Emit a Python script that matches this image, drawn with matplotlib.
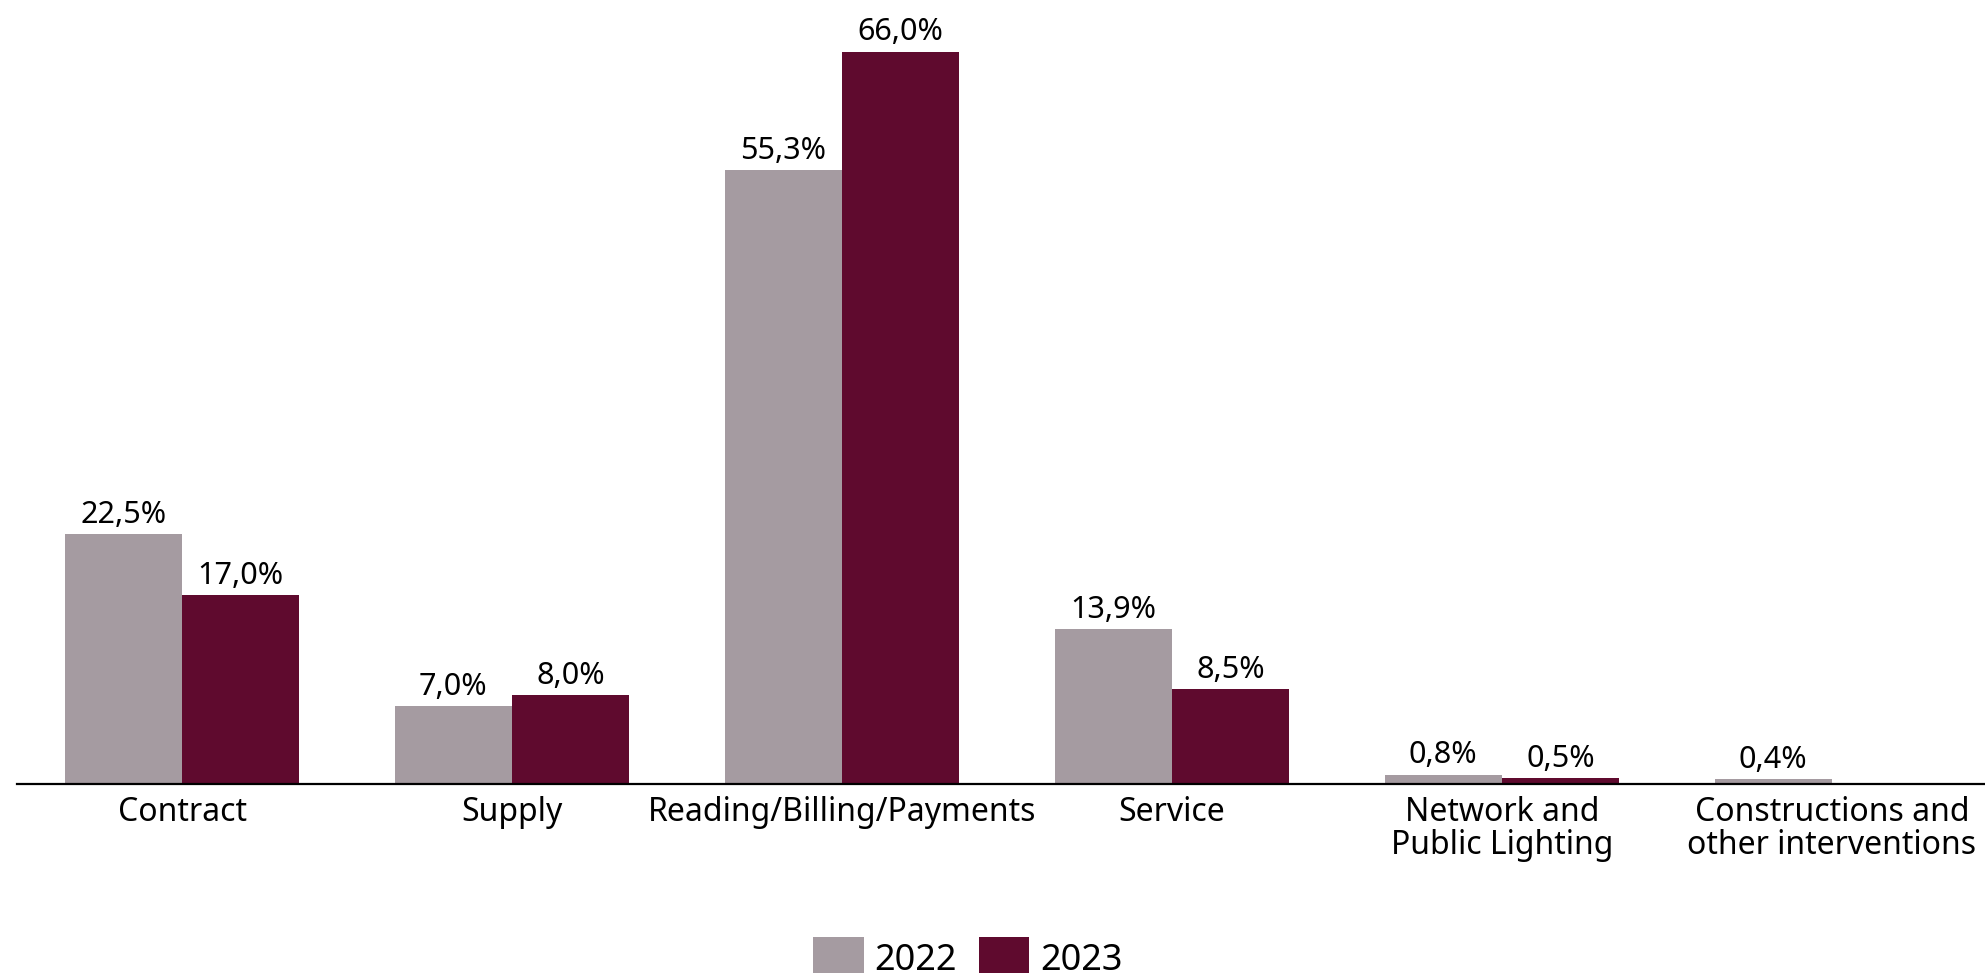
import matplotlib
matplotlib.use('Agg')
import matplotlib.pyplot as plt
import numpy as np

# 데이터
categories = ['Contract', 'Supply', 'Reading/Billing/Payments', 'Service',
              'Network and\nPublic Lighting', 'Constructions and\nother interventions']
vals_2022 = [22.5, 7.0, 55.3, 13.9, 0.8, 0.4]
vals_2023 = [17.0, 8.0, 66.0, 8.5, 0.5, 0.0]
series_names = ['2022', '2023']

c2022 = '#A59BA1'
c2023 = '#5F0A2E'

plt.rcParams['font.family'] = ['Noto Sans', 'DejaVu Sans']

W, H = 1985, 973
fig = plt.figure(figsize=(W / 100, H / 100), dpi=100)
ax = fig.add_axes([17 / W, (H - 783.5) / H, 1 - 17 / W, 783.5 / H])

x = np.arange(len(categories))
bw = 0.356
b1 = ax.bar(x - bw / 2, vals_2022, bw, color=c2022, label=series_names[0])
b2 = ax.bar(x + bw / 2, vals_2023, bw, color=c2023, label=series_names[1])


def fmt(vals):
    return [(f'{v:.1f}%'.replace('.', ',') if v > 0 else '') for v in vals]


ax.bar_label(b1, labels=fmt(vals_2022), padding=3, fontsize=22)
ax.bar_label(b2, labels=fmt(vals_2023), padding=3, fontsize=22)

ax.set_xlim(-0.5, (W - 182) / 330)
ax.set_ylim(0, 783.5 / 11.09)

ax.set_xticks(x)
ax.set_xticklabels(categories, fontsize=23, linespacing=1.0)
ax.tick_params(axis='x', length=0, pad=9)
ax.set_yticks([])

for s in ['top', 'right', 'left']:
    ax.spines[s].set_visible(False)
ax.spines['bottom'].set_linewidth(1.6)
ax.spines['bottom'].set_color('black')

fig.legend(handles=[b1, b2], loc='center', bbox_to_anchor=(968 / W, 1 - 958 / H),
           ncol=2, frameon=False, fontsize=26, handlelength=1.4, handleheight=1.4,
           handletextpad=0.3, columnspacing=0.6, borderpad=0)

fig.savefig('out.png', dpi=100)
